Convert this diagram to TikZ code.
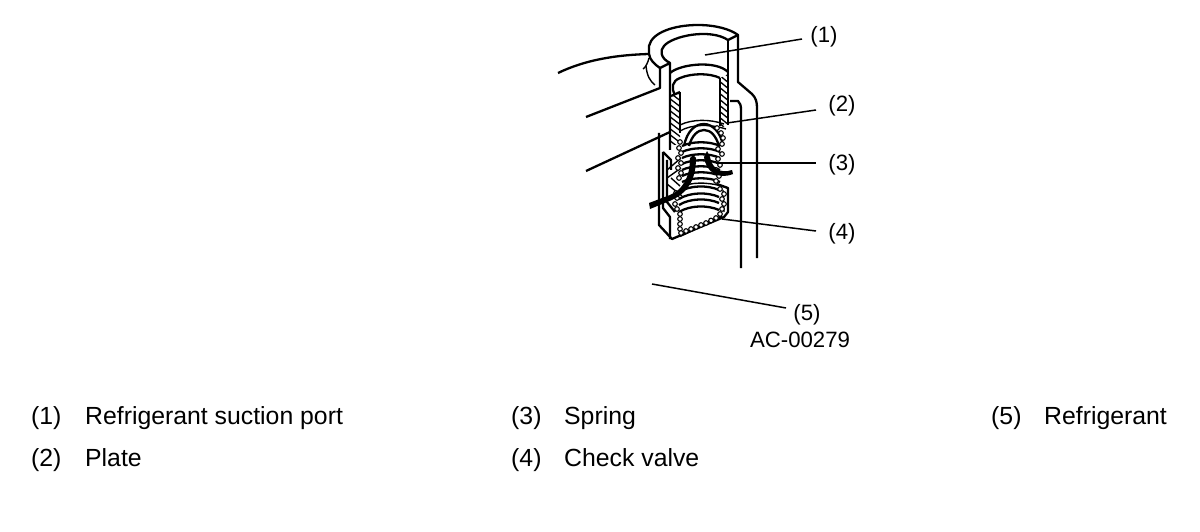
\documentclass[tikz,border=0pt]{standalone}
\usepackage{fontspec}
\setmainfont{Liberation Sans}
\tikzset{
  every picture/.style={x=1pt,y=-1pt},
  lbl/.style={inner sep=0pt,anchor=base west,font=\fontsize{24.8}{28}\selectfont,text=black},
  clbl/.style={inner sep=0pt,anchor=base,font=\fontsize{22.2}{26}\selectfont,text=black},
  lead/.style={line width=1.5pt,black},
  thin part/.style={line width=1.4pt,black,line join=round},
  thick part/.style={line width=2.3pt,black,line join=round},
  coil/.style={circle,draw=black,line width=1.1pt,fill=white,minimum size=4.6pt,inner sep=0pt}
}
\begin{document}
\begin{tikzpicture}
\useasboundingbox (0,0) rectangle (1200,532);
\fill[white] (0,0) rectangle (1200,532);
% outer housing
\draw[thick part] (649,54) -- (649,46) .. controls (652,32) and (675,25) .. (698,25) .. controls (715,25) and (730,29) .. (738,35)
  -- (738,82) -- (752,94) .. controls (756,98) and (757,102) .. (757,108) -- (757,258);
\draw[thick part] (649,54) .. controls (650,60) and (654,64) .. (660,68);
% port inner rim
\draw[thick part] (670,63) .. controls (660,58) and (660,50) .. (664,46) .. controls (672,36) and (710,28) .. (728,40) -- (738,35);
\draw[thick part] (660,68) -- (670,63) -- (670,150);
\draw[thin part] (728,40) -- (728,122);
% pipe
\draw[thick part] (558,73) .. controls (585,60) and (615,55) .. (649,54);
\draw[thin part] (649,58) .. controls (648,62) and (646,67) .. (643,69);
\draw[thin part] (646,66) .. controls (647,76) and (650,81) .. (655,85);
\draw[thick part] (586,117) -- (660,88) -- (660,68);
\draw[thick part] (586,171) -- (670,132);
% channel on right
\draw[thick part] (730,101) -- (738,101) .. controls (740,103) and (741,105) .. (741,110) -- (741,268);
% hatched walls
\begin{scope}
\clip (671,97) -- (680,92) -- (680,145) -- (671,145) -- cycle;
\foreach \yy in {80,86,...,150} \draw[line width=1.3pt] (669,\yy) -- (682,\yy+10);
\end{scope}
\begin{scope}
\clip (720,78) -- (728,74) -- (728,125) -- (720,128) -- cycle;
\foreach \yy in {62,68,...,130} \draw[line width=1.3pt] (718,\yy) -- (730,\yy+10);
\end{scope}
\draw[thick part] (680,92) -- (680,133);
\draw[thick part] (720,78) -- (720,126);
\draw[thick part] (728,72) -- (728,125);
\draw[thick part] (670,73) .. controls (680,64) and (716,60) .. (728,72);
\draw[thick part] (671,96) -- (680,92);
\draw[thick part] (675,95) .. controls (671,88) and (672,81) .. (680,78) .. controls (692,73) and (710,73) .. (720,78);
% plate
\draw[thin part] (680,125) .. controls (692,119) and (710,119) .. (724,124);
\draw[thin part] (680,131) .. controls (692,124) and (710,124) .. (726,129);
\draw[thick part] (684,146) .. controls (687,131) and (695,124) .. (704,124) .. controls (712,124) and (721,132) .. (723,146);
\draw[thick part] (689,146) .. controls (692,135) and (698,130) .. (704,130) .. controls (711,130) and (716,136) .. (719,146);
% upper spring rings
\foreach \yy in {146,152,158,164,170,176,182}
  \draw[thick part] (682,\yy) .. controls (692,\yy-5) and (710,\yy-5) .. (720,\yy);
% lower spring rings
\foreach \yy in {192,199,205,212}
  \draw[thick part] (679,\yy) .. controls (690,\yy-7) and (708,\yy-7) .. (719,\yy-2);
\draw[thin part] (684,186) .. controls (695,181) and (715,183) .. (727,188);
% housing lower outline
\draw[thick part] (659,133) -- (659,225) -- (672,239) -- (724,217) -- (728,212) -- (728,188) -- (717,184);
\draw[thick part] (663,152) -- (663,208) -- (670,217) -- (670,239);
\draw[thick part] (667,160) -- (667,202) -- (675,212);
\draw[thick part] (663,152) -- (671,160) -- (671,170);
\draw[thin part] (667,170) -- (681,158);
\draw[thin part] (667,178) -- (681,168);
\draw[thin part] (667,184) -- (682,196);
\draw[thin part] (671,178) -- (680,186);
\draw[thick part] (680,236) -- (722,216);
\draw[thin part] (723,190) -- (724,212);
% spring section coils
\foreach \p in {(680,142),(679,148),(681,153),(678,158),(681,163),(678,168),(681,173),(679,178),(676,193),(677,198),(675,204),(677,209),(680,214),(680,219),(680,224),(680,229),(681,233),
(686,231),(691,229),(696,227),(701,225),(706,223),(711,220.5),(716,218),(720,214),(722,209),(724,204),(722,199),(724,194),(720,189),
(723,138),(721,133),(717,128),(722,144),(718,149),(722,154),(718,159),(720,165),(716,170),(719,176),(716,181)}
  \node[coil] at \p {};
% refrigerant arrows
\path[fill=black] (649,203) -- (670,195) .. controls (682,190) and (690,178) .. (690,158) -- (693,155) -- (696,158)
  .. controls (696,178) and (689,192) .. (672,200) -- (650,209) -- cycle;
\path[fill=black] (732,170) -- (733,174) .. controls (718,180) and (706,172) .. (704,157) -- (707,151) -- (710,157)
  .. controls (712,168) and (720,174) .. (732,170) -- cycle;
% leaders
\node[clbl] (l1) at (824,43) {(1)};
\node[clbl] (l2) at (842,112) {(2)};
\node[clbl] (l3) at (842,171) {(3)};
\node[clbl] (l4) at (842,239) {(4)};
\node[clbl] (l5) at (807,320) {(5)};
\node[clbl] (code) at (800,347) {AC-00279};
\coordinate (t1) at (705,55);
\coordinate (e1) at (802,39);
\coordinate (t2) at (727,123);
\coordinate (e2) at (816,110);
\coordinate (t3) at (716,163);
\coordinate (e3) at (816,163);
\coordinate (t4) at (722,219);
\coordinate (e4) at (816,231);
\coordinate (t5) at (652,284);
\coordinate (e5) at (786,308);
\draw[lead] (t1) -- (e1);
\draw[lead] (t2) -- (e2);
\draw[lead] (t3) -- (e3);
\draw[lead] (t4) -- (e4);
\draw[lead] (t5) -- (e5);
% legend
\node[lbl] (n1) at (31,424) {(1)};
\node[lbl] (d1) at (85,424) {Refrigerant suction port};
\node[lbl] (n2) at (31,466) {(2)};
\node[lbl] (d2) at (85,466) {Plate};
\node[lbl] (n3) at (511,424) {(3)};
\node[lbl] (d3) at (564,424) {Spring};
\node[lbl] (n4) at (511,466) {(4)};
\node[lbl] (d4) at (564,466) {Check valve};
\node[lbl] (n5) at (991,424) {(5)};
\node[lbl] (d5) at (1044,424) {Refrigerant};
\end{tikzpicture}
\end{document}
